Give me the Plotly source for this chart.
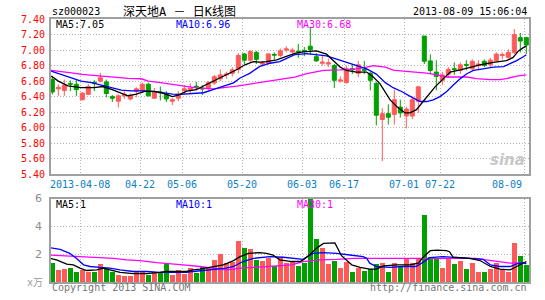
import plotly.graph_objects as go

# ---------------- data ----------------
dates = ["2013-03-28", "2013-03-29", "2013-04-01", "2013-04-02", "2013-04-03",
         "2013-04-08", "2013-04-09", "2013-04-10", "2013-04-11", "2013-04-12",
         "2013-04-15", "2013-04-16", "2013-04-17", "2013-04-18", "2013-04-19",
         "2013-04-22", "2013-04-23", "2013-04-24", "2013-04-25", "2013-04-26",
         "2013-05-02", "2013-05-03", "2013-05-06", "2013-05-07", "2013-05-08",
         "2013-05-09", "2013-05-10", "2013-05-13", "2013-05-14", "2013-05-15",
         "2013-05-16", "2013-05-17", "2013-05-20", "2013-05-21", "2013-05-22",
         "2013-05-23", "2013-05-24", "2013-05-27", "2013-05-28", "2013-05-29",
         "2013-05-30", "2013-05-31", "2013-06-03", "2013-06-04", "2013-06-05",
         "2013-06-06", "2013-06-07", "2013-06-13", "2013-06-14", "2013-06-17",
         "2013-06-18", "2013-06-19", "2013-06-20", "2013-06-21", "2013-06-24",
         "2013-06-25", "2013-06-26", "2013-06-27", "2013-06-28", "2013-07-01",
         "2013-07-02", "2013-07-03", "2013-07-04", "2013-07-05", "2013-07-08",
         "2013-07-22", "2013-07-23", "2013-07-24", "2013-07-25", "2013-07-26",
         "2013-07-29", "2013-07-30", "2013-07-31", "2013-08-01", "2013-08-02",
         "2013-08-05", "2013-08-06", "2013-08-07", "2013-08-08", "2013-08-09"]

opens = [6.62, 6.50, 6.48, 6.57, 6.56, 6.36, 6.43, 6.585, 6.60, 6.59,
         6.40, 6.34, 6.41, 6.37, 6.47, 6.48, 6.56, 6.38, 6.46, 6.43,
         6.34, 6.38, 6.48, 6.49, 6.535, 6.51, 6.51, 6.575, 6.63, 6.68,
         6.70, 6.75, 6.95, 6.87, 6.97, 6.82, 6.83, 6.945, 6.93, 7.00,
         6.975, 6.985, 6.995, 7.05, 6.915, 6.83, 6.82, 6.80, 6.60, 6.58,
         6.76, 6.70, 6.75, 6.70, 6.57, 6.105, 6.18, 6.17, 6.265, 6.15,
         6.15, 6.34, 7.18, 6.86, 6.716, 6.61, 6.686, 6.76, 6.737, 6.815,
         6.758, 6.80, 6.855, 6.81, 6.863, 6.93, 6.905, 6.97, 7.16, 7.16]
highs = [6.665, 6.56, 6.62, 6.61, 6.62, 6.46, 6.56, 6.61, 6.707, 6.62,
         6.42, 6.43, 6.47, 6.44, 6.52, 6.58, 6.58, 6.51, 6.53, 6.47,
         6.38, 6.47, 6.55, 6.57, 6.59, 6.55, 6.60, 6.68, 6.75, 6.72,
         6.78, 6.96, 6.96, 7.00, 6.99, 6.86, 6.96, 6.97, 7.02, 7.05,
         7.03, 7.08, 7.04, 7.30, 6.96, 6.94, 6.89, 6.82, 6.66, 6.80,
         6.82, 6.86, 6.86, 6.72, 6.59, 6.25, 6.30, 6.49, 6.36, 6.27,
         6.40, 6.54, 7.18, 6.945, 6.87, 6.72, 6.78, 6.84, 6.84, 6.87,
         6.88, 6.87, 6.88, 6.90, 6.97, 6.97, 7.01, 7.27, 7.22, 7.17]
lows = [6.43, 6.41, 6.41, 6.47, 6.41, 6.35, 6.42, 6.47, 6.58, 6.39,
        6.33, 6.26, 6.37, 6.35, 6.39, 6.45, 6.40, 6.37, 6.35, 6.33,
        6.29, 6.34, 6.43, 6.44, 6.48, 6.42, 6.48, 6.55, 6.60, 6.63,
        6.66, 6.70, 6.82, 6.84, 6.82, 6.79, 6.81, 6.88, 6.91, 6.97,
        6.96, 6.90, 6.92, 6.94, 6.85, 6.80, 6.78, 6.51, 6.58, 6.57,
        6.69, 6.65, 6.69, 6.48, 6.03, 5.57, 6.04, 6.04, 6.13, 5.99,
        6.11, 6.19, 6.82, 6.69, 6.48, 6.55, 6.64, 6.68, 6.69, 6.74,
        6.74, 6.74, 6.78, 6.78, 6.85, 6.88, 6.89, 6.95, 6.97, 6.95]
closes = [6.46, 6.52, 6.55, 6.56, 6.49, 6.445, 6.53, 6.575, 6.644, 6.44,
          6.38, 6.41, 6.43, 6.42, 6.50, 6.56, 6.41, 6.46, 6.45, 6.37,
          6.36, 6.43, 6.50, 6.51, 6.525, 6.50, 6.58, 6.655, 6.68, 6.69,
          6.745, 6.93, 6.87, 6.98, 6.88, 6.835, 6.95, 6.935, 6.99, 7.015,
          7.00, 6.975, 6.985, 7.005, 6.86, 6.845, 6.835, 6.61, 6.615, 6.76,
          6.745, 6.81, 6.74, 6.61, 6.16, 6.18, 6.135, 6.36, 6.19, 6.24,
          6.36, 6.526, 6.855, 6.737, 6.66, 6.68, 6.75, 6.75, 6.81, 6.805,
          6.855, 6.82, 6.80, 6.87, 6.947, 6.94, 6.97, 7.20, 7.116, 7.065]

volumes = [1.40, 0.88, 0.93, 1.00, 0.76, 0.88, 0.69, 0.76, 1.29, 1.05,
           0.69, 0.52, 0.40, 0.40, 0.83, 0.81, 0.48, 0.69, 0.64, 1.29,
           0.48, 0.88, 0.57, 1.05, 0.64, 1.12, 1.00, 1.60, 2.02, 1.40,
           1.48, 2.98, 2.48, 2.36, 1.60, 1.55, 1.71, 1.17, 1.79, 1.40,
           1.48, 1.19, 1.40, 6.00, 3.14, 2.48, 1.29, 1.55, 1.00, 1.48,
           0.69, 1.00, 0.83, 0.93, 1.31, 1.40, 0.69, 1.40, 1.12, 1.64,
           1.40, 1.76, 4.86, 1.83, 1.64, 1.00, 1.64, 1.29, 1.55, 0.93,
           1.40, 0.76, 0.76, 0.93, 1.36, 0.93, 0.76, 2.83, 1.90, 1.24]

# price moving averages (position in candles, value)
ma5_pos = [-0.2, 1, 2.6, 4.8, 7, 8.4, 10.1, 11.2, 12.6, 14, 15.4, 17, 18.4, 20,
           21, 22.4, 24, 25.7, 27.4, 29.3, 30.7, 32.1, 33.5, 34.6, 35.7, 37.4, 38.8, 40.4,
           41.8, 44, 45.7, 46.8, 48, 49, 50.7, 52.4, 53.5, 54.6, 56.3, 57.4, 58.8, 59.6,
           60.7, 61.8, 62.9, 63.8, 65.2, 66.3, 68, 69.6, 71.3, 73.5, 75.7, 76.8, 77.7, 78.5, 79]
ma5_val = [6.665, 6.60, 6.538, 6.517, 6.517, 6.53, 6.488, 6.454, 6.41, 6.433, 6.467, 6.467, 6.445, 6.40,
           6.42, 6.47, 6.49, 6.556, 6.62, 6.70, 6.746, 6.81, 6.85, 6.845, 6.85, 6.873, 6.915, 6.958,
           6.977, 6.99, 6.947, 6.863, 6.78, 6.737, 6.716, 6.716, 6.653, 6.568, 6.358, 6.274, 6.19, 6.19,
           6.232, 6.337, 6.442, 6.526, 6.632, 6.716, 6.745, 6.779, 6.808, 6.842, 6.863, 6.905, 6.989, 7.031, 7.05]

ma10_pos = [-0.2, 1.5, 3.2, 4.8, 6.5, 8.7, 9.8, 11.5, 13.2, 15.4, 17.6, 20,
            21.3, 24, 25.2, 26.8, 28.5, 30.2, 31.3, 32.9, 34.6, 36.3, 37.9, 39, 40.4,
            42.4, 45.7, 47.4, 49, 50.7, 52.4, 54, 55.5, 56.8, 58.3, 59.5, 60.5,
            61.3, 62.4, 63.5, 64.6, 65.7, 66.8, 68, 69.1, 70.2, 71.8, 73.5, 75.2, 76.3, 77.4, 78.5, 79]
ma10_val = [6.728, 6.686, 6.635, 6.60, 6.58, 6.54, 6.517, 6.483, 6.475, 6.475, 6.46, 6.433,
            6.43, 6.45, 6.45, 6.49, 6.535, 6.577, 6.64, 6.70, 6.79, 6.83, 6.85, 6.89, 6.94,
            6.955, 6.926, 6.884, 6.842, 6.80, 6.758, 6.69, 6.58, 6.515, 6.463, 6.41, 6.37,
            6.337, 6.337, 6.358, 6.40, 6.463, 6.547, 6.632, 6.695, 6.737, 6.758, 6.779, 6.787, 6.821, 6.863, 6.914, 6.94]

ma30_pos = [-0.2, 1.2, 3.2, 5, 8, 10.4, 12.6, 14.8, 16, 18, 20,
            21.8, 24, 26.8, 28.5, 30.7, 32.4, 34.1, 35.7, 37.9, 40.4,
            42.4, 45.2, 48, 50.7, 52.4, 53.5, 55.5, 56.8, 58.5, 60.2, 62.4, 64.6, 65.7,
            69.1, 70.7, 72.9, 74.6, 75.7, 77.4, 79]
ma30_val = [6.737, 6.728, 6.707, 6.686, 6.665, 6.652, 6.635, 6.63, 6.60, 6.58, 6.56,
            6.535, 6.514, 6.50, 6.514, 6.535, 6.556, 6.577, 6.598, 6.62, 6.65,
            6.695, 6.737, 6.745, 6.758, 6.78, 6.80, 6.78, 6.742, 6.728, 6.716, 6.703, 6.674, 6.653,
            6.653, 6.632, 6.619, 6.619, 6.632, 6.665, 6.68]

# volume moving averages
vma5_pos = [-0.4, 0.7, 2.4, 3.5, 4.6, 5.7, 7.4, 8.5, 9.6, 11.3, 13.5, 15.7, 17.9, 19, 22.4, 23.5,
            24.6, 26.8, 28.5, 30.2, 31.3, 32.7, 34.6, 35.7, 36.8, 37.9, 39.9, 41.3, 41.8, 43, 44,
            45.2, 47.1, 48.2, 49.9, 51.3, 52.9, 54, 55.2, 57.4, 59.6, 61, 61.9, 63, 64.1, 65.7,
            66.2, 66.8, 69.6, 71.3, 73, 74.6, 76.3, 77.4, 78.5, 79]
vma5_val = [1.71, 1.60, 1.29, 1.24, 1.00, 0.83, 0.88, 1.00, 0.88, 0.69, 0.60, 0.60, 0.69, 0.76, 0.76, 0.88,
            0.93, 1.12, 1.24, 1.55, 1.83, 2.07, 2.12, 2.07, 1.95, 1.60, 1.48, 1.48, 1.60, 2.00, 2.43,
            2.79, 2.83, 1.90, 1.24, 1.05, 0.93, 0.93, 1.17, 1.24, 1.24, 1.36, 1.83, 2.26, 2.31, 2.26,
            2.19, 1.79, 1.71, 1.55, 1.12, 0.93, 0.88, 1.12, 1.40, 1.48]

vma10_pos = [-0.4, 1.3, 2.9, 4, 5.2, 6.3, 7.9, 9.6, 11.3, 13.5, 15.7, 17.9, 20.2, 22.4, 23.5, 25.2,
             26.8, 29, 30.2, 31.8, 33.5, 35.7, 36.3, 38.5, 40.7, 41.8, 42.7, 43.5, 45.2, 47.4, 49.6,
             51.8, 52.4, 52.9, 54, 56.3, 58.4, 60.6, 61.7, 62.9, 65.1, 67.3, 70.6, 71.8, 73, 74.6,
             76.3, 77.4, 78.5, 79]
vma10_val = [2.48, 2.36, 2.07, 1.71, 1.24, 1.12, 1.05, 1.00, 0.88, 0.76, 0.76, 0.69, 0.69, 0.69, 0.76, 0.83,
             0.88, 1.00, 1.12, 1.48, 1.71, 1.83, 1.83, 1.79, 1.71, 1.64, 1.88, 2.07, 2.12, 2.07, 1.95,
             1.83, 1.71, 1.36, 1.12, 1.05, 1.12, 1.12, 1.40, 1.76, 1.83, 1.76, 1.71, 1.64, 1.24, 1.12,
             1.12, 1.31, 1.40, 1.31]

vma30_pos = [-0.4, 2.4, 4.6, 7.4, 10.2, 12.4, 14.6, 17.4, 19, 21.8, 24.6, 26.8, 29, 30.2, 31.3, 33.5,
             35.7, 36.3, 39.9, 41.8, 44.6, 47.4, 50.2, 52.9, 58.4, 61.2, 64, 66.8, 70.6, 72.3, 74.6,
             76.3, 79]
vma30_val = [1.95, 1.88, 1.83, 1.76, 1.71, 1.60, 1.55, 1.40, 1.36, 1.24, 1.12, 1.00, 0.88, 0.93, 1.00, 1.05,
             1.12, 1.17, 1.24, 1.48, 1.60, 1.64, 1.71, 1.71, 1.71, 1.71, 1.71, 1.71, 1.71, 1.60, 1.48,
             1.36, 1.40]

price_ticks = [5.40, 5.60, 5.80, 6.00, 6.20, 6.40, 6.60, 6.80, 7.00, 7.20, 7.40]
vol_ticks = [2, 4, 6]
tick_dates = ["2013-04-08", "2013-04-22", "2013-05-06", "2013-05-20", "2013-06-03",
              "2013-06-17", "2013-07-01", "2013-07-22", "2013-08-09"]
tick_labels = ["2013-04-08", "04-22", "05-06", "05-20", "06-03", "06-17", "07-01", "07-22", "08-09"]

title_code = "sz000023"
title_name = "深天地A － 日K线图"
timestamp = "2013-08-09 15:06:04"
ma_labels = ["MA5:7.05", "MA10:6.96", "MA30:6.68"]
vma_labels = ["MA5:1", "MA10:1", "MA30:1"]
vol_unit = "x万"

# ---------------- styling ----------------
UP = "#ff5a5a"
DOWN = "#00a000"
MONO = "DejaVu Sans Mono, Liberation Mono, Noto Sans CJK SC, monospace"
GRID = "#b4b4b4"
BORDER = "#a0a0a0"
DASH = "1px,2px"

idx = list(range(len(dates)))
grid_pos = [dates.index(d) - 0.33 for d in tick_dates]
bar_colors = [UP if c >= o else DOWN for o, c in zip(opens, closes)]

fig = go.Figure()

fig.add_trace(go.Candlestick(
    x=idx, open=opens, high=highs, low=lows, close=closes,
    increasing=dict(line=dict(color=UP, width=1), fillcolor=UP),
    decreasing=dict(line=dict(color=DOWN, width=1), fillcolor=DOWN),
    whiskerwidth=0, xaxis="x", yaxis="y", hoverinfo="skip"))

for xs, ys, col in [(ma30_pos, ma30_val, "#ff00ff"), (ma10_pos, ma10_val, "#0000ff"),
                    (ma5_pos, ma5_val, "#000000")]:
    fig.add_trace(go.Scatter(x=xs, y=ys, mode="lines", line=dict(color=col, width=1.3),
                             xaxis="x", yaxis="y", hoverinfo="skip"))

fig.add_trace(go.Bar(x=idx, y=volumes, marker=dict(color=bar_colors, line=dict(width=0)),
                     width=0.8, xaxis="x2", yaxis="y2", hoverinfo="skip"))

for xs, ys, col in [(vma30_pos, vma30_val, "#ff00ff"), (vma10_pos, vma10_val, "#0000ff"),
                    (vma5_pos, vma5_val, "#000000")]:
    fig.add_trace(go.Scatter(x=xs, y=ys, mode="lines", line=dict(color=col, width=1.3),
                             xaxis="x2", yaxis="y2", hoverinfo="skip"))

xcommon = dict(range=[-0.22, 79.45], tickmode="array", tickvals=grid_pos, showticklabels=False,
               showgrid=True, gridcolor=GRID, griddash=DASH, gridwidth=1,
               showline=True, mirror=True, linecolor=BORDER, linewidth=2,
               zeroline=False, ticks="", fixedrange=True)

fig.update_layout(
    width=545, height=300,
    margin=dict(l=51, r=16, t=19, b=14),
    paper_bgcolor="white", plot_bgcolor="white",
    showlegend=False, bargap=0, boxgap=0.33, boxgroupgap=0,
    xaxis=dict(domain=[0, 1], anchor="y", rangeslider=dict(visible=False), **xcommon),
    xaxis2=dict(domain=[0, 1], anchor="y2", matches="x", **xcommon),
    yaxis=dict(domain=[0.4097, 1], range=[5.40, 7.40], tickmode="array", tickvals=price_ticks,
               ticktext=["%.2f" % v for v in price_ticks],
               tickfont=dict(family=MONO, size=10, color="#ff0000"),
               showgrid=True, gridcolor=GRID, griddash=DASH, gridwidth=1,
               showline=True, mirror=True, linecolor=BORDER, linewidth=2,
               zeroline=False, ticks="", ticklabelstandoff=2),
    yaxis2=dict(domain=[0, 0.3157], range=[0, 6], autorange=False, tickmode="linear",
                tick0=0, dtick=2, showticklabels=False,
                showgrid=True, gridcolor=GRID, griddash=DASH, gridwidth=1,
                showline=True, mirror=True, linecolor=BORDER, linewidth=2,
                zeroline=False, ticks=""),
)

ann = []
# volume axis labels
for v in vol_ticks:
    ann.append(dict(x=-0.014, y=v, xref="paper", yref="y2", text=str(v), showarrow=False,
                    xanchor="right", yanchor="middle",
                    font=dict(family="DejaVu Sans", size=11, color="#8c8c8c")))
# date labels under the price panel
for d, lab in zip(tick_dates, tick_labels):
    last = d == tick_dates[-1]
    ann.append(dict(x=dates.index(d) - 0.33, y=0.372, xref="x", yref="paper", text=lab,
                    showarrow=False, xanchor="right" if last else "center", yanchor="middle",
                    font=dict(family=MONO, size=10, color="#0a80c8")))
# title row
ann.append(dict(x=-0.002, y=1.028, xref="paper", yref="paper", text=title_code, showarrow=False,
                xanchor="left", yanchor="middle", font=dict(family=MONO, size=10, color="#000")))
ann.append(dict(x=0.146, y=1.028, xref="paper", yref="paper", text=title_name, showarrow=False,
                xanchor="left", yanchor="middle", font=dict(family=MONO, size=12, color="#000")))
ann.append(dict(x=1.0, y=1.028, xref="paper", yref="paper", text=timestamp, showarrow=False,
                xanchor="right", yanchor="middle", font=dict(family=MONO, size=10, color="#000")))
# MA labels
for lab, px, col in zip(ma_labels, [0.006, 0.258, 0.510], ["#000000", "#0000ff", "#ff00ff"]):
    ann.append(dict(x=px, y=0.9775, xref="paper", yref="paper", text=lab, showarrow=False,
                    xanchor="left", yanchor="middle", font=dict(family=MONO, size=10, color=col)))
for lab, px, col in zip(vma_labels, [0.006, 0.258, 0.510], ["#000000", "#0000ff", "#ff00ff"]):
    ann.append(dict(x=px, y=0.296, xref="paper", yref="paper", text=lab, showarrow=False,
                    xanchor="left", yanchor="middle", font=dict(family=MONO, size=10, color=col)))
# footer
ann.append(dict(x=-0.012, y=0.0, xref="paper", yref="paper", text=vol_unit, showarrow=False,
                xanchor="right", yanchor="middle", font=dict(family=MONO, size=10, color="#999999")))
ann.append(dict(x=-0.002, y=-0.022, xref="paper", yref="paper", text="Copyright 2013 SINA.COM",
                showarrow=False, xanchor="left", yanchor="middle",
                font=dict(family=MONO, size=10, color="#777777")))
ann.append(dict(x=1.0, y=-0.022, xref="paper", yref="paper", text="http://finance.sina.com.cn",
                showarrow=False, xanchor="right", yanchor="middle",
                font=dict(family=MONO, size=10, color="#777777")))
# watermark
ann.append(dict(x=0.995, y=0.462, xref="paper", yref="paper", text="<b><i>sina</i></b>",
                showarrow=False, xanchor="right", yanchor="middle",
                font=dict(family="DejaVu Sans", size=15, color="#c8c8c8")))

fig.update_layout(annotations=ann)

fig.write_html("out.html")
